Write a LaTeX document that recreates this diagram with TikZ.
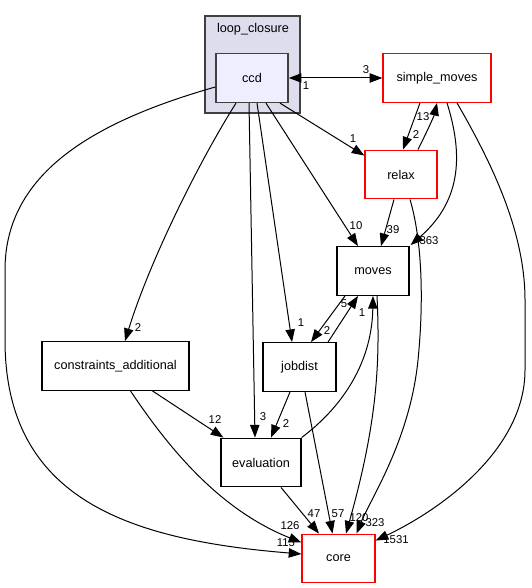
\documentclass[tikz,border=0pt]{standalone}
\usepackage{fontspec}
\setmainfont{Liberation Sans}
\usetikzlibrary{arrows.meta,calc}
\definecolor{clusterfill}{HTML}{DDDDEE}
\definecolor{ccdfill}{HTML}{EEEEFF}
\definecolor{framegray}{HTML}{404040}
\tikzset{
	>={Triangle[length=9.5pt,width=7pt]},
	dirbox/.style={draw=black, line width=0.9pt, minimum height=36.5pt, inner sep=0pt, font=\fontsize{9.5}{11}\selectfont},
	redbox/.style={dirbox, draw=red},
	dep/.style={line width=0.75pt, ->},
	num/.style={inner sep=0pt, font=\fontsize{8.5}{10}\selectfont},
}

\begin{document}
\begin{tikzpicture}[x=0.75pt,y=-0.75pt]
			%%%%% START %%%%%
			\useasboundingbox (0,0) rectangle (531,588);
			
			\draw[fill=clusterfill, draw=framegray, line width=0.9pt] (205,16) rectangle (300,113);
			\node (lc) at (253,29) {\fontsize{9.5}{11}\selectfont loop\_closure};
			
			\node[dirbox, fill=ccdfill, draw=framegray, line width=1.2pt, minimum width=54pt] (ccd) at (252,78) {ccd};
			\node[redbox, minimum width=81pt] (simplemoves) at (437,78) {simple\_moves};
			\node[redbox, minimum width=54pt] (relax) at (401,174.5) {relax};
			\node[dirbox, minimum width=54pt] (moves) at (373,271) {moves};
			\node[dirbox, minimum width=54.75pt] (jobdist) at (299.5,367) {jobdist};
			\node[dirbox, minimum width=110.25pt] (constraints) at (115.5,366) {constraints\_additional};
			\node[dirbox, minimum width=60pt] (evaluation) at (261,462.5) {evaluation};
			\node[redbox, minimum width=54.75pt] (core) at (338.5,558.5) {core};
			
			\draw[line width=0.75pt, <->] (ccd.east) -- (simplemoves.west);
			\draw[dep] ($(ccd.south)+(28,0)$) -- ($(relax.north west)+(0,6)$);
			\draw[dep] ($(simplemoves.south)+(-17,0)$) -- ($(relax.north)+(2,0)$);
			\draw[dep] ($(relax.north)+(17,0)$) .. controls ($(relax.north)+(27,-20)$) and ($(simplemoves.south)+(-3,13)$) .. (simplemoves.south);
			\draw[dep] ($(simplemoves.south)+(10,0)$) .. controls ($(simplemoves.south)+(25,48)$) and ($(moves.north east)+(54,-47)$) .. ($(moves.north east)+(1,-1)$);
			\draw[dep] ($(simplemoves.south)+(20,0)$) .. controls (490,160) and (525,230) .. (525,300) -- (525,370) .. controls (525,450) and (440,510) .. ($(core.north east)+(0,7)$);
			
			\draw[dep] ($(ccd.south)+(14,0)$) -- ($(moves.north)+(-15,0)$);
			\draw[dep] ($(relax.south)+(-7,0)$) -- ($(moves.north)+(8,0)$);
			\draw[dep] ($(relax.south)+(9,0)$) .. controls (422,240) and (424,300) .. (418,360) .. controls (410,440) and (370,500) .. ($(core.north)+(18,0)$);
			
			\draw[dep] ($(ccd.south)+(-16,0)$) .. controls (200,160) and (150,260) .. ($(constraints.north)+(9.5,0)$);
			\draw[dep] ($(ccd.south)+(-3,0)$) -- ($(evaluation.north)+(-6,0)$);
			\draw[dep] ($(ccd.south)+(5,0)$) -- ($(jobdist.north)+(-7.5,0)$);
			\draw[dep] ($(ccd.west)+(0,9)$) .. controls (100,120) and (5,170) .. (5,270) -- (5,340) .. controls (5,500) and (130,540) .. ($(core.west)+(0,-4.5)$);
			
			\draw[dep] ($(constraints.south)+(37,0)$) -- ($(evaluation.north west)+(3,0)$);
			\draw[dep] ($(constraints.south)+(15,0)$) .. controls (170,450) and (220,510) .. ($(core.west)+(0,-16)$);
			
			\draw[dep] ($(moves.south)+(-28,0)$) -- ($(jobdist.north)+(11.5,0)$);
			\draw[dep] ($(jobdist.north)+(28.5,0)$) -- ($(moves.south)+(-15,0)$);
			\draw[dep] ($(jobdist.south)+(-9.5,0)$) -- ($(evaluation.north)+(10,0)$);
			\draw[dep] ($(jobdist.south)+(5.5,0)$) -- ($(core.north)+(-6,0)$);
			
			\draw[dep] (evaluation.north east) .. controls (345,405) and (372,360) .. (moves.south);
			\draw[dep] ($(evaluation.south)+(20,0)$) -- ($(core.north)+(-19.5,0)$);
			\draw[dep] ($(moves.south)+(4,0)$) .. controls (380,360) and (378,420) .. ($(core.north)+(7.5,0)$);
			
			\node[num] (n1) at (366,70) {3};
			\node[num] (n2) at (306,86) {1};
			\node[num] (n3) at (353,139) {1};
			\node[num] (n4) at (423,117) {13};
			\node[num] (n5) at (416,135) {2};
			\node[num] (n6) at (356,226) {10};
			\node[num] (n7) at (393,230) {39};
			\node[num] (n8) at (429,241) {363};
			\node[num] (n9) at (344,304) {5};
			\node[num] (n10) at (362,313) {1};
			\node[num] (n11) at (301,323) {1};
			\node[num] (n12) at (327,331) {2};
			\node[num] (n13) at (138,328) {2};
			\node[num] (n14) at (215,420) {12};
			\node[num] (n15) at (263,417) {3};
			\node[num] (n16) at (286,424) {2};
			\node[num] (n17) at (314,514) {47};
			\node[num] (n18) at (338,514) {57};
			\node[num] (n19) at (359,518) {120};
			\node[num] (n20) at (375,523) {323};
			\node[num] (n21) at (290,526) {126};
			\node[num] (n22) at (286,543) {115};
			\node[num] (n23) at (396,540) {1531};
			
			%%%%% END %%%%%
\end{tikzpicture}
\end{document}
